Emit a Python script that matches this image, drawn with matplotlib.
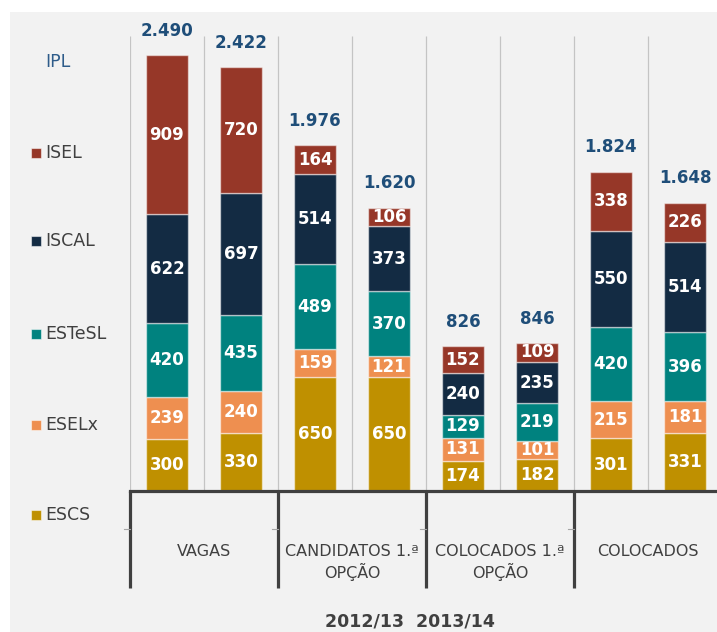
import matplotlib
matplotlib.use("Agg")
import matplotlib.pyplot as plt
from matplotlib.patches import Rectangle

# data
groups = ["VAGAS", "CANDIDATOS 1.ª\nOPÇÃO", "COLOCADOS 1.ª\nOPÇÃO", "COLOCADOS"]
years = "2012/13  2013/14"
series = ["ESCS", "ESELx", "ESTeSL", "ISCAL", "ISEL"]
escs = [300, 330, 650, 650, 174, 182, 301, 331]
eselx = [239, 240, 159, 121, 131, 101, 215, 181]
estesl = [420, 435, 489, 370, 129, 219, 420, 396]
iscal = [622, 697, 514, 373, 240, 235, 550, 514]
isel = [909, 720, 164, 106, 152, 109, 338, 226]
colors = ["#BF9000", "#EE8F50", "#00827F", "#132B43", "#963728"]

values = [escs, eselx, estesl, iscal, isel]
totals = [sum(v) for v in zip(*values)]

W, H = 717, 632
plt.rcParams["font.family"] = ["DejaVu Sans"]
fig = plt.figure(figsize=(W / 100, H / 100), dpi=100, facecolor="white")


def fx(x):
    return x / W


def fy(y):
    return 1 - y / H


# grey chart area
fig.patches.append(Rectangle((fx(10), 0), 1, fy(12), transform=fig.transFigure,
                             facecolor="#f2f2f2", edgecolor="none", zorder=-5))

ax_top, ax_bot = 36, 491
ax = fig.add_axes([fx(130), fy(ax_bot), 1 - fx(130), (ax_bot - ax_top) / H])
ax.set_facecolor("none")
ax.set_xlim(0, 587 / 74)
ax.set_ylim(0, 2600)
for s in ax.spines.values():
    s.set_visible(False)
ax.set_xticks([])
ax.set_yticks([])

xs = [i + 0.5 for i in range(len(totals))]

# thin separators between bars
ax.vlines(range(0, 9), 0, 2600, color="#c4c4c4", lw=0.9, zorder=0)

bottom = [0] * len(xs)
for name, vals, col in zip(series, values, colors):
    ax.bar(xs, vals, width=0.58, bottom=bottom, color=col,
           edgecolor=(1, 1, 1, 0.5), lw=1, zorder=2)
    for x, b, v in zip(xs, bottom, vals):
        ax.text(x, b + v / 2, str(v), ha="center", va="center", color="white",
                fontsize=12, fontweight="bold", zorder=3)
    bottom = [b + v for b, v in zip(bottom, vals)]

for x, t in zip(xs, totals):
    ax.annotate(f"{t:,}".replace(",", "."), (x, t), xytext=(0, 17.5),
                textcoords="offset points", ha="center", va="center",
                color="#1F4E79", fontsize=12, fontweight="bold")

# category axis
ax.axhline(0, color="#404040", lw=2.3, clip_on=False, zorder=4)
trans = ax.get_xaxis_transform()
depth = (588 - ax_bot) / (ax_bot - ax_top)
for x in [0, 2, 4, 6, 8]:
    ax.plot([x, x], [0, -depth], transform=trans, color="#404040", lw=2.3,
            clip_on=False, solid_capstyle="butt")
stub = -(529 - ax_bot) / (ax_bot - ax_top)
for x in [0, 2, 4, 6]:
    ax.plot([x - 0.08, x], [stub, stub], transform=trans, color="#a6a6a6",
            lw=0.8, clip_on=False)
lab_y = -(544 - ax_bot) / (ax_bot - ax_top)
for i, g in enumerate(groups):
    ax.text(2 * i + 1, lab_y, g, transform=trans, ha="center", va="top",
            fontsize=11.5, color="#404040", linespacing=1.25)

fig.text(fx(410), fy(613), years, ha="center", va="top", fontsize=12.5,
         fontweight="bold", color="#404040")

# legend on the left
fig.text(fx(45), fy(62), "IPL", ha="left", va="center", fontsize=12.5,
         color="#2E5C8A")
leg_y = [153, 241, 334, 425, 515]
for name, col, y in zip(series[::-1], colors[::-1], leg_y):
    fig.patches.append(Rectangle((fx(31), fy(y + 5)), 10 / W, 10 / H,
                                 transform=fig.transFigure, facecolor=col,
                                 edgecolor=(1, 1, 1, 0.5), lw=0.8))
    fig.text(fx(45), fy(y), name, ha="left", va="center", fontsize=12.5,
             color="#404040")

fig.savefig("out.png", dpi=100, facecolor="white")
